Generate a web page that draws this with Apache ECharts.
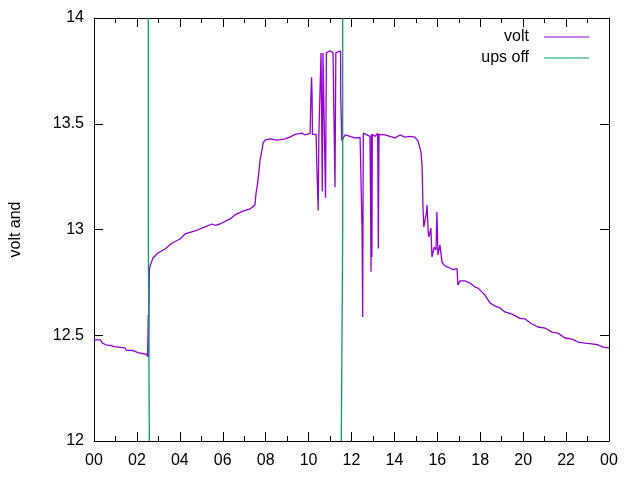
<!DOCTYPE html>
<html>
<head>
<meta charset="utf-8">
<script src="https://cdn.jsdelivr.net/npm/echarts@6/dist/echarts.min.js"></script>
<style>
html, body { margin: 0; padding: 0; background: #fff; }
#picture { width: 640px; height: 480px; }
</style>
</head>
<body>
<div id="picture"></div>
<script>
// hours since midnight, battery voltage
var voltTime = [
    0.00, 0.30, 0.38, 0.55, 0.80, 0.85, 0.95, 1.00, 1.45, 1.50, 1.80, 1.85, 2.05, 2.10, 2.45, 2.50,
    2.52, 2.53, 2.54, 2.58, 2.62, 2.75, 2.98, 3.31, 3.64, 4.01, 4.24, 4.71, 5.17, 5.50, 5.65, 5.87,
    6.34, 6.57, 6.94, 7.27, 7.50, 7.55, 7.64, 7.74, 7.83, 7.88, 7.97, 8.20, 8.53, 8.90, 9.13, 9.37,
    9.69, 9.83, 10.07, 10.10, 10.11, 10.14, 10.16, 10.18, 10.35, 10.39, 10.45, 10.48, 10.51, 10.55,
    10.58, 10.62, 10.64, 10.67, 10.76, 10.79, 10.83, 11.00, 11.14, 11.20, 11.23, 11.27, 11.30, 11.49,
    11.50, 11.55, 11.60, 11.70, 11.93, 12.16, 12.40, 12.47, 12.49, 12.52, 12.55, 12.86, 12.89, 12.91,
    12.93, 12.95, 12.97, 13.10, 13.22, 13.25, 13.28, 13.33, 13.56, 13.79, 14.03, 14.26, 14.49, 14.73,
    14.96, 15.10, 15.24, 15.29, 15.33, 15.37, 15.43, 15.50, 15.52, 15.58, 15.61, 15.70, 15.75, 15.85,
    15.94, 15.98, 16.03, 16.12, 16.22, 16.31, 16.45, 16.59, 16.73, 16.92, 16.96, 17.06, 17.29, 17.52,
    17.76, 17.90, 18.22, 18.46, 18.69, 18.92, 19.15, 19.48, 19.85, 20.09, 20.41, 20.69, 21.02, 21.34,
    21.62, 21.95, 22.28, 22.56, 22.88, 23.20, 23.48, 23.72, 24.00
];
var voltValue = [
    12.478, 12.478, 12.464, 12.455, 12.451, 12.443, 12.446, 12.440, 12.440, 12.430, 12.428, 12.420, 12.418, 12.412, 12.410, 12.400,
    12.400, 12.596, 12.397, 12.810, 12.830, 12.865, 12.889, 12.908, 12.936, 12.955, 12.979, 12.993, 13.012, 13.026, 13.020, 13.026,
    13.050, 13.069, 13.087, 13.097, 13.116, 13.170, 13.230, 13.330, 13.376, 13.410, 13.423, 13.428, 13.423, 13.428, 13.437, 13.450,
    13.456, 13.447, 13.455, 13.450, 13.640, 13.720, 13.640, 13.450, 13.450, 13.280, 13.090, 13.450, 13.450, 13.720,
    13.835, 13.835, 13.180, 13.835, 13.840, 13.150, 13.835, 13.845, 13.835, 13.840, 13.200, 13.835, 13.835, 13.845,
    13.620, 13.420, 13.423, 13.447, 13.440, 13.433, 13.435, 13.433, 13.010, 12.586, 13.456, 13.440, 13.130, 12.800,
    13.450, 12.870, 13.450, 13.440, 13.456, 12.910, 13.450, 13.450, 13.447, 13.440, 13.433, 13.447, 13.437, 13.440,
    13.437, 13.418, 13.366, 13.296, 13.106, 13.012, 13.007, 13.083, 13.116, 12.980, 12.965, 13.007, 12.870, 12.917,
    12.903, 13.083, 12.880, 12.927, 12.846, 12.832, 12.823, 12.818, 12.810, 12.815, 12.738, 12.757, 12.757, 12.747,
    12.728, 12.723, 12.690, 12.652, 12.638, 12.629, 12.610, 12.600, 12.580, 12.577, 12.553, 12.539, 12.534, 12.515,
    12.510, 12.487, 12.482, 12.468, 12.463, 12.459, 12.455, 12.444, 12.440
];
// ups off markers
var upsTime  = [2.53, 2.53, 2.58, 2.58, null, 11.59, 11.59, 11.525, 11.525];
var upsValue = [14.0, 13.0, 13.0, 12.0, null, 14.0, 13.0, 13.0, 12.0];

var voltData = voltTime.map(function (t, i) { return [t, voltValue[i]]; });
var upsData = upsTime.map(function (t, i) { return t === null ? '-' : [t, upsValue[i]]; });

var font = 'Liberation Sans, Arial, sans-serif';
var myChart = echarts.init(document.getElementById('picture'));

function xAxisDef(pos, labels) {
    return {
        type: 'value', position: pos, min: 0, max: 24, interval: 2,
        axisLine: { show: true, onZero: false, lineStyle: { color: '#000', width: 1 } },
        axisTick: { show: true, inside: true, length: 9, lineStyle: { color: '#000' } },
        minorTick: { show: true, splitNumber: 2, length: 5, lineStyle: { color: '#000' } },
        splitLine: { show: false },
        axisLabel: {
            show: labels, margin: 12, color: '#000', fontSize: 16, fontFamily: font,
            formatter: function (v) { var h = v % 24; return (h < 10 ? '0' : '') + h; }
        }
    };
}
function yAxisDef(pos, labels) {
    return {
        type: 'value', position: pos, min: 12, max: 14, interval: 0.5,
        name: labels ? 'volt and' : '', nameLocation: 'middle', nameRotate: 90, nameGap: 70,
        nameTextStyle: { color: '#000', fontSize: 16, fontFamily: font },
        axisLine: { show: true, onZero: false, lineStyle: { color: '#000', width: 1 } },
        axisTick: { show: true, inside: true, length: 9, lineStyle: { color: '#000' } },
        splitLine: { show: false },
        axisLabel: { show: labels, margin: 10, color: '#000', fontSize: 16, fontFamily: font }
    };
}

var option = {
    backgroundColor: '#fff',
    animation: false,
    grid: { left: 94, right: 31, top: 18, bottom: 39 },
    legend: {
        orient: 'vertical', right: 46, top: 24, align: 'right',
        itemWidth: 45, itemHeight: 1, itemGap: 5, icon: 'rect',
        textStyle: { color: '#000', fontSize: 16, fontFamily: font, padding: [0, 10, 0, 0] },
        data: ['volt', 'ups off']
    },
    xAxis: [xAxisDef('bottom', true), xAxisDef('top', false)],
    yAxis: [yAxisDef('left', true), yAxisDef('right', false)],
    series: [
        {
            name: 'volt', type: 'line', xAxisIndex: 0, yAxisIndex: 0,
            showSymbol: false, symbol: 'none', color: '#9400d3',
            lineStyle: { width: 1.3, color: '#9400d3' },
            data: voltData
        },
        {
            name: 'ups off', type: 'line', xAxisIndex: 0, yAxisIndex: 0,
            showSymbol: false, symbol: 'none', color: '#009e73', connectNulls: false,
            lineStyle: { width: 1.3, color: '#009e73' },
            data: upsData
        }
    ]
};
myChart.setOption(option);
</script>
</body>
</html>
